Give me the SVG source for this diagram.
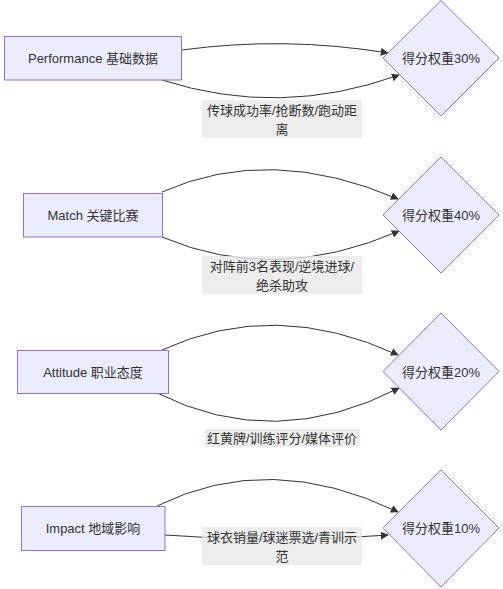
<svg xmlns="http://www.w3.org/2000/svg" width="503" height="589" viewBox="0 0 503 589">
<style>
.node rect, .node polygon { fill: #ECECFF; stroke: #9370DB; stroke-width: 1; }
text { font-family: "Liberation Sans", "Noto Sans CJK SC", sans-serif; font-size: 13px; fill: #333333; text-anchor: middle; dominant-baseline: central; }
.edge { fill: none; stroke: #333333; stroke-width: 1; marker-end: url(#arrow); }
.lbl { fill: rgba(232,232,232,0.8); stroke: none; }
</style>
<defs>
<marker id="arrow" viewBox="0 0 10 10" refX="9" refY="5" markerWidth="8" markerHeight="8" markerUnits="userSpaceOnUse" orient="auto">
<path d="M0,0 L10,5 L0,10 z" fill="#333333"/>
</marker>
</defs>
<rect width="503" height="589" fill="#ffffff"/>
<g id="edges">
<path class="edge" d="M182,50 Q285,36 388,53"/>
<path class="edge" d="M162,80 Q280,118 399,75"/>
<path class="edge" d="M162,192 Q270,144 398,199"/>
<path class="edge" d="M162,237 Q275,285 399,231"/>
<path class="edge" d="M162,350 Q275,298 398,355"/>
<path class="edge" d="M157,393 Q275,452 399,388"/>
<path class="edge" d="M157,506 Q270,450 398,512"/>
<path class="edge" d="M165,535 Q280,544 388,535"/>
</g>
<g id="edge-labels">
<rect class="lbl" x="202" y="100" width="160" height="38"/>
<text x="282" y="110">传球成功率/抢断数/跑动距</text>
<text x="282" y="129">离</text>
<rect class="lbl" x="202" y="256" width="160" height="38"/>
<text x="282" y="266">对阵前3名表现/逆境进球/</text>
<text x="282" y="285">绝杀助攻</text>
<rect class="lbl" x="205" y="429" width="155" height="18"/>
<text x="282" y="438">红黄牌/训练评分/媒体评价</text>
<rect class="lbl" x="202" y="527" width="160" height="38"/>
<text x="282" y="537">球衣销量/球迷票选/青训示</text>
<text x="282" y="556">范</text>
</g>
<g id="perf" class="node">
<rect x="4.5" y="36.5" width="177" height="43.5"/>
<text x="93" y="58">Performance 基础数据</text>
</g>
<g id="w30" class="node">
<polygon points="441,0.5 499,58 441,116 383,58"/>
<text x="441" y="58">得分权重30%</text>
</g>
<g id="match" class="node">
<rect x="23.5" y="193.5" width="139" height="43.5"/>
<text x="93" y="215">Match 关键比赛</text>
</g>
<g id="w40" class="node">
<polygon points="441,157 499,215 441,273 383,215"/>
<text x="441" y="215">得分权重40%</text>
</g>
<g id="attitude" class="node">
<rect x="17.5" y="350.5" width="151" height="43"/>
<text x="93" y="372">Attitude 职业态度</text>
</g>
<g id="w20" class="node">
<polygon points="441,313 499,371.5 441,430 383,371.5"/>
<text x="441" y="372">得分权重20%</text>
</g>
<g id="impact" class="node">
<rect x="21.5" y="506.5" width="143.5" height="44"/>
<text x="93" y="528">Impact 地域影响</text>
</g>
<g id="w10" class="node">
<polygon points="441,470 499,528 441,587 383,528"/>
<text x="441" y="528">得分权重10%</text>
</g>
</svg>
